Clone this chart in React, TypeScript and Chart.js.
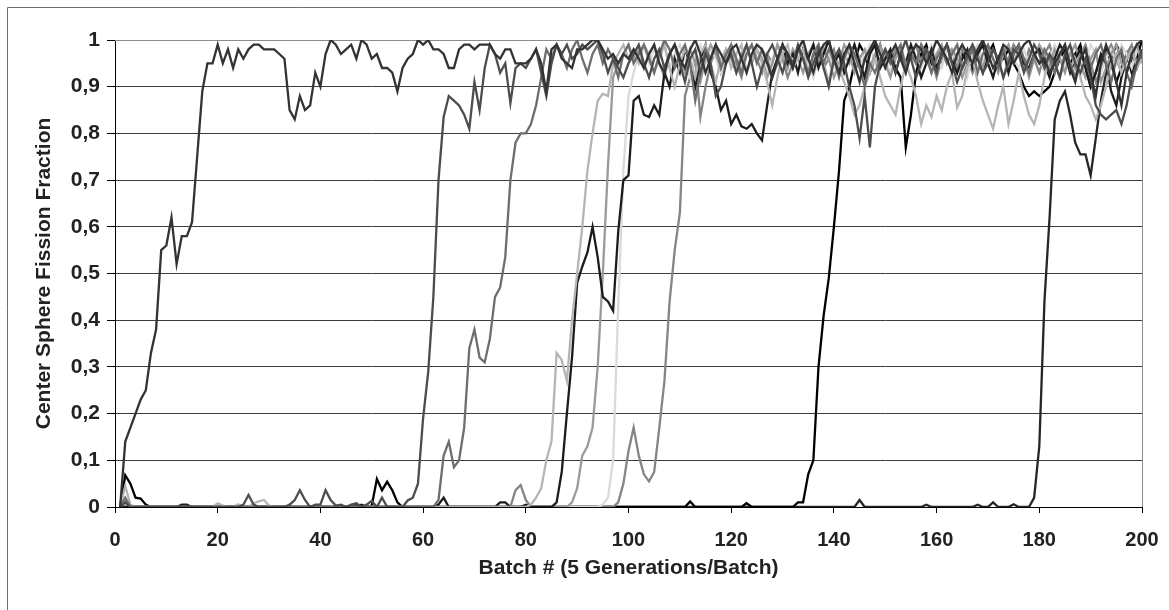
import React, { useEffect, useRef } from "react";
import { Chart, registerables } from "chart.js";

Chart.register(...registerables);

// x categories: batch numbers 1..200
const BATCHES = Array.from({ length: 200 }, (_, i) => i + 1);

const X_TITLE = "Batch # (5 Generations/Batch)";
const Y_TITLE = "Center Sphere Fission Fraction";
const Y_TICK_LABELS = ["0", "0,1", "0,2", "0,3", "0,4", "0,5", "0,6", "0,7", "0,8", "0,9", "1"];

const SERIES_A = [
  0, .14, .17, .2, .23, .25, .33, .38, .55, .56, .62, .52, .58, .58, .61, .75, .89, .95, .95, .99,
  .95, .98, .94, .98, .96, .98, .99, .99, .98, .98, .98, .97, .96, .85, .83, .88, .85, .86, .93, .9,
  .97, 1, .99, .97, .98, .99, .96, 1, .99, .96, .97, .94, .94, .93, .89, .94, .96, .97, 1, .99,
  1, .98, .98, .97, .94, .94, .98, .99, .99, .98, .99, .99, .99, .97, .96, .98, .98, .95, .95, .95,
  .96, .98, .95, .89, .98, .99, .96, .95, .94, .98, .98, .99, 1, 1, .98, .96, .97, .95, .97, .96,
  .98, .96, .94, .97, .99, .95, .93, .97, .99, .96, .94, .98, 1, .97, .93, .96, .99, .97, .95, .98,
  .99, .96, .93, .97, .99, .98, .95, .92, .96, .99, .97, .94, .98, 1, .96, .93, .97, .99, 1, .96,
  .93, .97, .99, .95, .91, .96, .98, 1, .97, .94, .97, .99, .96, .93, .97, .99, .98, .95, .97, 1,
  .98, .96, .93, .97, .99, .97, .95, .98, 1, .97, .94, .96, .99, .98, .95, .97, .99, 1, .97, .95,
  .96, .93, .95, .97, .99, .94, .91, .96, .98, .93, .88, .95, .99, .96, .91, .86, .93, .97, .99, 1,
];

const SERIES_B = [
  0, .01, 0, 0, 0, 0, 0, 0, 0, 0, 0, 0, 0, 0, 0, 0, 0, 0, 0, 0,
  0, 0, 0, 0, .005, .026, .005, 0, 0, 0, 0, 0, 0, .005, .015, .036, .015, 0, .005, .005,
  .036, .015, .003, .005, 0, .005, .008, 0, .005, .013, 0, .02, 0, 0, 0, 0, .014, .02, .05, .19,
  .29, .45, .7, .835, .88, .87, .86, .84, .81, .91, .85, .94, .99, .97, .93, .95, .865, .94, .95, .94,
  .96, .98, .93, .88, .95, .99, .97, .99, .96, .97, .99, .98, .99, 1, .97, .93, .96, .94, .92, .95,
  .97, .99, .95, .92, .96, .98, .94, .97, .99, .95, .91, .96, .98, .93, .97, .95, .88, .9, .95, .97,
  .93, .96, .99, .95, .9, .94, .97, .99, .96, .93, .97, .95, .99, .96, .92, .95, .98, .94, .9, .96,
  .98, .95, .9, .86, .79, .88, .77, .9, .95, .98, .96, .93, .97, 1, .96, .92, .95, .98, .96, .93,
  .97, .99, .95, .91, .94, .97, .99, .96, .93, .95, .98, .96, .92, .95, .98, .97, .93, .96, .99, .97,
  .94, .97, .95, .92, .97, .99, .95, .93, .96, .92, .86, .84, .83, .84, .85, .82, .86, .92, .95, .98,
];

const SERIES_C = [
  0, .02, 0, 0, 0, 0, 0, 0, 0, 0, 0, 0, 0, 0, 0, 0, 0, 0, 0, 0,
  0, 0, 0, 0, 0, 0, 0, 0, 0, 0, 0, 0, 0, 0, 0, 0, 0, 0, 0, 0,
  0, 0, 0, 0, 0, 0, 0, 0, 0, 0, 0, 0, 0, 0, 0, 0, 0, 0, 0, 0,
  0, 0, .015, .11, .14, .085, .1, .17, .34, .38, .32, .31, .36, .45, .47, .535, .7, .78, .8, .8,
  .82, .86, .92, .98, .96, .99, .97, .94, .98, 1, .96, .93, .97, .99, .95, .98, .96, .92, .97, .99,
  .95, .97, .99, .96, .93, .97, 1, .98, .94, .97, .99, .95, .87, .93, .98, .96, .99, .94, .97, .99,
  .96, .93, .97, .99, .95, .98, .96, .92, .95, .99, .97, .94, .98, .96, .93, .97, .99, .95, .98, .96,
  .92, .96, .99, .97, .94, .9, .95, .93, .96, .98, .95, .97, .99, .94, .97, .95, .99, .97, .93, .96,
  .98, .95, .97, .99, .94, .96, .98, .93, .97, .99, .96, .94, .98, .95, .97, .99, .96, .93, .97, .95,
  .98, .96, .93, .97, .99, .95, .92, .96, .98, .94, .97, .99, .95, .91, .96, .98, .93, .9, .95, .97,
];

const SERIES_D = [
  0, .045, .005, 0, 0, 0, 0, 0, 0, 0, 0, 0, 0, 0, 0, 0, 0, 0, 0, .008,
  .003, 0, 0, .006, 0, 0, .008, .012, .015, .003, 0, 0, 0, 0, 0, 0, 0, 0, 0, 0,
  0, 0, 0, 0, 0, 0, 0, 0, 0, 0, 0, 0, 0, 0, 0, 0, 0, 0, 0, 0,
  0, 0, 0, 0, 0, 0, 0, 0, 0, 0, 0, 0, 0, 0, 0, 0, 0, 0, 0, 0,
  .005, .02, .04, .1, .14, .33, .315, .27, .4, .5, .6, .72, .8, .87, .885, .88, .95, .97, .99, .96,
  .98, .95, .99, .97, .93, .96, .99, .94, .9, .95, .98, .96, .92, .97, .99, .95, .91, .96, .98, .94,
  .97, .99, .93, .96, .98, .95, .91, .86, .92, .97, .99, .94, .96, .98, .93, .97, .99, .95, .91, .96,
  .94, .91, .88, .84, .86, .9, .93, .96, .92, .88, .86, .84, .9, .95, .92, .88, .82, .86, .835, .88,
  .85, .9, .93, .855, .88, .94, .96, .91, .87, .84, .81, .86, .9, .82, .87, .93, .88, .84, .82, .86,
  .92, .96, .93, .97, .99, .94, .96, .92, .88, .86, .83, .86, .9, .95, .97, .93, .96, .98, .94, .96,
];

const SERIES_E = [
  0, 0, 0, 0, 0, 0, 0, 0, 0, 0, 0, 0, .005, .005, 0, 0, 0, 0, 0, 0,
  0, 0, 0, 0, 0, 0, 0, 0, 0, 0, 0, 0, 0, 0, 0, 0, 0, 0, 0, 0,
  0, 0, 0, 0, 0, 0, .005, .003, 0, 0, 0, 0, 0, 0, 0, 0, 0, 0, 0, 0,
  0, 0, .005, .02, 0, 0, 0, 0, 0, 0, 0, 0, 0, 0, .01, .01, 0, 0, 0, .005,
  0, 0, 0, 0, 0, .01, .075, .2, .32, .48, .515, .545, .6, .535, .45, .44, .42, .59, .7, .71,
  .87, .88, .84, .835, .86, .84, .93, .9, .96, .93, .98, .95, .9, .96, .99, .93, .9, .85, .87, .82,
  .84, .815, .81, .82, .8, .785, .86, .93, .96, .99, .95, .97, .93, .98, .96, .99, .94, .97, 1, .95,
  .97, .93, .96, .99, .95, .92, .97, .99, .94, .96, .98, .93, .97, .95, .99, .96, .92, .95, .98, .94,
  .97, .99, .95, .93, .96, .98, .94, .97, .99, .95, .92, .96, .98, .93, .97, .99, .95, .94, .97, .98,
  .95, .92, .96, .99, .97, .93, .96, .98, .94, .9, .93, .97, .95, .89, .86, .92, .96, .98, .94, .97,
];

const SERIES_F = [
  0, .01, 0, 0, 0, 0, 0, 0, 0, 0, 0, 0, 0, 0, 0, 0, 0, 0, 0, 0,
  0, 0, 0, 0, 0, 0, 0, 0, 0, 0, 0, 0, 0, 0, 0, 0, 0, 0, 0, 0,
  0, 0, 0, 0, 0, 0, 0, 0, 0, 0, 0, 0, 0, 0, 0, 0, 0, 0, 0, 0,
  0, 0, 0, 0, 0, 0, 0, 0, 0, 0, 0, 0, 0, 0, 0, 0, 0, 0, 0, 0,
  0, 0, 0, 0, 0, 0, 0, 0, .01, .04, .11, .13, .17, .3, .5, .73, .92, .95, .97, .99,
  .96, .98, .94, .97, .99, .95, .92, .97, .99, .96, .93, .98, .95, .91, .96, .99, .97, .94, .98, .96,
  .93, .97, .99, .95, .98, .96, .92, .95, .99, .97, .94, .98, .96, .93, .97, .99, .95, .98, .96, .92,
  .95, .99, .97, .93, .96, .98, .94, .97, .99, .95, .92, .96, .98, .94, .97, .95, .99, .96, .93, .97,
  .99, .95, .98, .96, .92, .95, .99, .97, .94, .98, .96, .93, .97, .99, .95, .98, .96, .92, .96, .99,
  .97, .94, .98, .96, .93, .97, .99, .95, .92, .96, .98, .91, .94, .97, .99, .95, .93, .97, .99, .95,
];

const SERIES_G = [
  0, 0, 0, 0, 0, 0, 0, 0, 0, 0, 0, 0, 0, 0, 0, 0, 0, 0, 0, 0,
  0, 0, 0, 0, 0, 0, 0, 0, 0, 0, 0, 0, 0, 0, 0, 0, 0, 0, 0, 0,
  0, 0, 0, 0, 0, 0, 0, 0, 0, 0, 0, 0, 0, 0, 0, 0, 0, 0, 0, 0,
  0, 0, 0, 0, 0, 0, 0, 0, 0, 0, 0, 0, 0, 0, 0, 0, 0, 0, 0, 0,
  0, 0, 0, 0, 0, 0, 0, 0, 0, 0, 0, 0, 0, 0, .005, .02, .1, .43, .72, .88,
  .93, .97, .99, .95, .98, .96, .99, .94, .97, .99, .96, .92, .97, .99, .95, .98, .96, .93, .97, .99,
  .96, .94, .98, .99, .95, .97, .93, .96, .99, .97, .94, .98, .96, .99, .95, .92, .96, .99, .97, .94,
  .98, .95, .99, .96, .94, .97, .99, .95, .98, .96, .93, .97, .99, .95, .98, .96, .94, .97, .99, .96,
  .94, .98, .96, .99, .95, .92, .97, .99, .95, .98, .96, .93, .97, .99, .96, .94, .98, .95, .99, .97,
  .93, .96, .99, .97, .94, .98, .96, .92, .95, .99, .97, .93, .96, .98, .95, .99, .97, .94, .98, .96,
];

const SERIES_H = [
  0, 0, 0, 0, 0, 0, 0, 0, 0, 0, 0, 0, 0, 0, 0, 0, 0, 0, 0, 0,
  0, 0, 0, 0, 0, 0, 0, 0, 0, 0, 0, 0, 0, 0, 0, 0, 0, 0, 0, 0,
  0, 0, 0, 0, 0, 0, 0, 0, 0, 0, 0, 0, 0, 0, 0, 0, 0, 0, 0, 0,
  0, 0, 0, 0, 0, 0, 0, 0, 0, 0, 0, 0, 0, 0, 0, 0, 0, .036, .047, .015,
  0, 0, 0, 0, 0, 0, 0, 0, 0, 0, 0, 0, 0, 0, 0, 0, 0, .01, .05, .12,
  .17, .11, .07, .055, .075, .17, .27, .44, .55, .63, .88, .92, .96, .835, .9, .95, .98, .93, .96, .99,
  .95, .92, .97, .99, .96, .93, .97, .95, .99, .96, .92, .95, .98, .96, .93, .97, .99, .94, .96, .98,
  .93, .97, .95, .99, .96, .92, .97, .99, .94, .97, .95, .98, .96, .93, .97, .99, .95, .98, .96, .92,
  .96, .99, .97, .94, .98, .96, .93, .97, .99, .95, .98, .96, .92, .96, .99, .97, .94, .98, .96, .93,
  .97, .99, .95, .92, .96, .98, .94, .97, .99, .95, .91, .94, .97, .99, .96, .93, .97, .99, .95, .98,
];

const SERIES_I = [
  0, .068, .05, .02, .018, .005, 0, 0, 0, 0, 0, 0, 0, 0, 0, 0, 0, 0, 0, 0,
  0, 0, 0, 0, 0, 0, 0, 0, 0, 0, 0, 0, 0, 0, 0, 0, 0, 0, 0, 0,
  0, 0, 0, 0, 0, 0, 0, .005, 0, .003, .06, .036, .054, .036, .01, 0, 0, 0, 0, 0,
  0, 0, 0, 0, 0, 0, 0, 0, 0, 0, 0, 0, 0, 0, 0, 0, 0, 0, 0, 0,
  0, 0, 0, 0, 0, 0, 0, 0, 0, 0, 0, 0, 0, 0, 0, 0, 0, 0, 0, 0,
  0, 0, 0, 0, 0, 0, 0, 0, 0, 0, 0, .012, 0, 0, 0, 0, 0, 0, 0, 0,
  0, 0, .008, 0, 0, 0, 0, 0, 0, 0, 0, 0, .01, .01, .07, .1, .3, .41, .49, .6,
  .72, .87, .9, .95, .99, .97, .93, .96, .99, .95, .97, .94, .92, .77, .84, .93, .97, .99, .95, .93,
  .97, .99, .96, .93, .97, .95, .98, .96, .93, .97, .99, .95, .96, .98, .95, .93, .9, .88, .89, .88,
  .89, .9, .93, .96, .98, .95, .97, .99, .94, .9, .93, .96, .98, .95, .91, .94, .97, .93, .96, 1,
];

const SERIES_J = [
  0, 0, 0, 0, 0, 0, 0, 0, 0, 0, 0, 0, 0, 0, 0, 0, 0, 0, 0, 0,
  0, 0, 0, 0, 0, 0, 0, 0, 0, 0, 0, 0, 0, 0, 0, 0, 0, 0, 0, 0,
  0, 0, 0, 0, 0, 0, 0, 0, 0, 0, 0, 0, 0, 0, 0, 0, 0, 0, 0, 0,
  0, 0, 0, 0, 0, 0, 0, 0, 0, 0, 0, 0, 0, 0, 0, 0, 0, 0, 0, 0,
  0, 0, 0, 0, 0, 0, 0, 0, 0, 0, 0, 0, 0, 0, 0, 0, 0, 0, 0, 0,
  0, 0, 0, 0, 0, 0, 0, 0, 0, 0, 0, 0, 0, 0, 0, 0, 0, 0, 0, 0,
  0, 0, 0, 0, 0, 0, 0, 0, 0, 0, 0, 0, 0, 0, 0, 0, 0, 0, 0, 0,
  0, 0, 0, 0, .015, 0, 0, 0, 0, 0, 0, 0, 0, 0, 0, 0, 0, .005, 0, 0,
  0, 0, 0, 0, 0, 0, 0, .005, 0, 0, .01, 0, 0, 0, .006, 0, 0, 0, .02, .13,
  .44, .62, .83, .87, .89, .84, .78, .755, .755, .71, .79, .87, .93, .96, .99, .97, .93, .96, .99, .97,
];

// first in list is drawn on top
const SERIES = [
  { name: "Run A", values: SERIES_A, color: "#333333" },
  { name: "Run B", values: SERIES_B, color: "#4d4d4d" },
  { name: "Run C", values: SERIES_C, color: "#6e6e6e" },
  { name: "Run D", values: SERIES_D, color: "#b5b5b5" },
  { name: "Run E", values: SERIES_E, color: "#1c1c1c" },
  { name: "Run F", values: SERIES_F, color: "#9a9a9a" },
  { name: "Run G", values: SERIES_G, color: "#dadada" },
  { name: "Run H", values: SERIES_H, color: "#858585" },
  { name: "Run I", values: SERIES_I, color: "#000000" },
  { name: "Run J", values: SERIES_J, color: "#262626" },
];

const FONT_FAMILY = "'Liberation Sans', Arial, Helvetica, sans-serif";

const framePlugin = {
  id: "frame",
  beforeDatasetsDraw(chart: any) {
    const { ctx, chartArea } = chart;
    const { left, right, top, bottom } = chartArea;
    ctx.save();
    ctx.strokeStyle = "#8c8c8c";
    ctx.lineWidth = 1;
    ctx.beginPath();
    ctx.moveTo(left, Math.round(top) + 0.5);
    ctx.lineTo(Math.round(right) + 0.5, Math.round(top) + 0.5);
    ctx.lineTo(Math.round(right) + 0.5, bottom);
    ctx.stroke();
    ctx.restore();
  },
  afterDraw(chart: any) {
    const { ctx, width, height } = chart;
    ctx.save();
    ctx.strokeStyle = "#6e6e6e";
    ctx.lineWidth = 1;
    ctx.beginPath();
    ctx.moveTo(7.5, height);
    ctx.lineTo(7.5, 7.5);
    ctx.lineTo(width, 7.5);
    ctx.stroke();
    ctx.restore();
  },
};

export default function App() {
  const canvasRef = useRef<HTMLCanvasElement | null>(null);

  useEffect(() => {
    const canvas = canvasRef.current;
    if (!canvas) return;
    const chart = new Chart(canvas, {
      type: "line",
      data: {
        datasets: SERIES.map((s) => ({
          label: s.name,
          data: s.values.map((v, i) => ({ x: BATCHES[i], y: v })),
          borderColor: s.color,
          backgroundColor: s.color,
          borderWidth: 2.3,
          pointRadius: 0,
          pointHoverRadius: 0,
          tension: 0,
          fill: false,
        })),
      },
      options: {
        responsive: false,
        animation: false,
        events: [],
        layout: { padding: { left: 0, right: 27, top: 40, bottom: 0 } },
        plugins: {
          legend: { display: false },
          tooltip: { enabled: false },
          title: { display: false },
        },
        scales: {
          x: {
            type: "linear",
            min: 0,
            max: 200,
            afterFit(scale: any) {
              scale.height = 103;
              scale.paddingLeft = 0;
              scale.paddingRight = 0;
            },
            ticks: {
              stepSize: 20,
              color: "#222",
              padding: 15,
              maxRotation: 0,
              font: { family: FONT_FAMILY, size: 20, weight: "bold" },
            },
            grid: {
              display: true,
              drawOnChartArea: false,
              drawTicks: true,
              tickLength: 6,
              tickColor: "#000",
              tickWidth: 1,
            },
            border: { display: true, color: "#000", width: 1 },
            title: {
              display: true,
              text: X_TITLE,
              color: "#222",
              font: { family: FONT_FAMILY, size: 21, weight: "bold" },
              padding: { top: 0, bottom: 29 },
            },
          },
          y: {
            type: "linear",
            min: 0,
            max: 1,
            afterFit(scale: any) {
              scale.width = 115;
              scale.paddingTop = 0;
              scale.paddingBottom = 0;
            },
            ticks: {
              stepSize: 0.1,
              color: "#222",
              padding: 7,
              font: { family: FONT_FAMILY, size: 21, weight: "bold" },
              callback: (_v: any, index: number) => Y_TICK_LABELS[index],
            },
            grid: {
              color: "#3c3c3c",
              lineWidth: 1,
              drawTicks: true,
              tickLength: 8,
              tickColor: "#000",
            },
            border: { display: true, color: "#000", width: 1 },
            title: {
              display: true,
              text: Y_TITLE,
              color: "#222",
              font: { family: FONT_FAMILY, size: 21, weight: "bold" },
              padding: { top: 32, bottom: 0 },
            },
          },
        },
      },
      plugins: [framePlugin],
    });
    return () => chart.destroy();
  }, []);

  return (
    <div
      style={{
        position: "absolute",
        left: 0,
        top: 0,
        width: 1169,
        height: 610,
        background: "#ffffff",
      }}
    >
      <canvas ref={canvasRef} width={1169} height={610} style={{ display: "block" }} />
    </div>
  );
}
